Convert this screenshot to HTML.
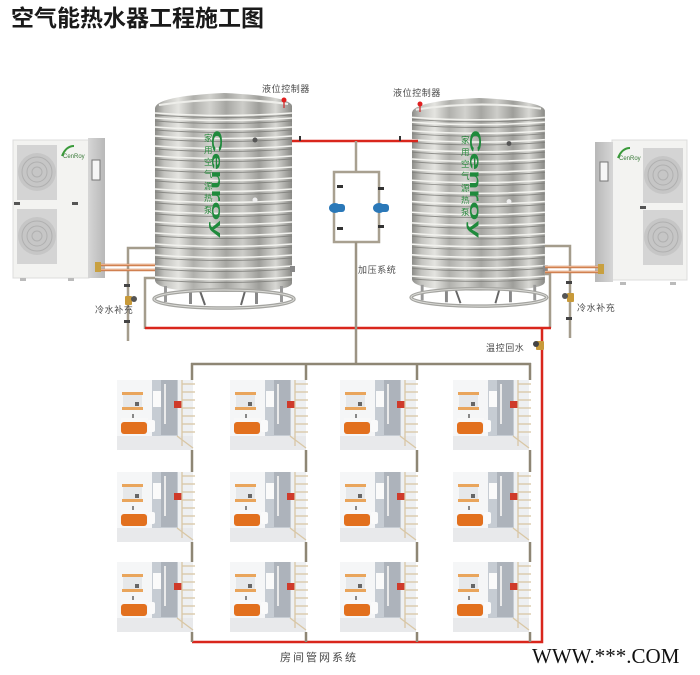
<!DOCTYPE html>
<html>
<head>
<meta charset="utf-8">
<style>
html,body{margin:0;padding:0;background:#fff;}
body{width:700px;height:675px;overflow:hidden;}
svg{display:block;}
.lbl{font-family:"Liberation Sans","Noto Sans CJK SC",sans-serif;font-size:9px;fill:#4a4a4a;letter-spacing:0.6px;}
</style>
</head>
<body>
<svg width="700" height="675" viewBox="0 0 700 675" xmlns="http://www.w3.org/2000/svg">
<defs>
  <linearGradient id="steel" x1="0" y1="0" x2="1" y2="0">
    <stop offset="0" stop-color="#8c8c88"/>
    <stop offset="0.07" stop-color="#c4c4c0"/>
    <stop offset="0.17" stop-color="#e4e4e0"/>
    <stop offset="0.28" stop-color="#b0b0ac"/>
    <stop offset="0.40" stop-color="#d2d2ce"/>
    <stop offset="0.52" stop-color="#a6a6a2"/>
    <stop offset="0.64" stop-color="#cdcdc9"/>
    <stop offset="0.76" stop-color="#9e9e9a"/>
    <stop offset="0.88" stop-color="#d8d8d4"/>
    <stop offset="1" stop-color="#8a8a86"/>
  </linearGradient>
  <linearGradient id="side" x1="0" y1="0" x2="1" y2="0">
    <stop offset="0" stop-color="#d6d6d6"/>
    <stop offset="1" stop-color="#b8b8b8"/>
  </linearGradient>
  <linearGradient id="side2" x1="0" y1="0" x2="1" y2="0">
    <stop offset="0" stop-color="#b8b8b8"/>
    <stop offset="1" stop-color="#d6d6d6"/>
  </linearGradient>

  <g id="tank">
    <path d="M0,15 Q2,3 69,0 Q135,3 137,13 L137,190 Q137,199 69,199 Q0,199 0,187 Z" fill="url(#steel)"/>
    <path d="M4,12 Q69,2 133,11" fill="none" stroke="#eeeeea" stroke-width="2"/>
    <g fill="none" stroke-width="1.6" stroke="#f2f2ee">
      <path d="M0,20 Q69,25 137,20"/><path d="M0,25 Q69,30 137,25"/>
      <path d="M0,34 Q69,39 137,34"/><path d="M0,43 Q69,48 137,43"/>
      <path d="M0,53 Q69,58 137,53"/><path d="M0,63 Q69,68 137,63"/>
      <path d="M0,74 Q69,79 137,74"/><path d="M0,85 Q69,90 137,85"/>
      <path d="M0,96 Q69,101 137,96"/><path d="M0,107 Q69,112 137,107"/>
      <path d="M0,118 Q69,123 137,118"/><path d="M0,129 Q69,134 137,129"/>
      <path d="M0,140 Q69,145 137,140"/><path d="M0,151 Q69,156 137,151"/>
      <path d="M0,162 Q69,167 137,162"/><path d="M0,173 Q69,178 137,173"/>
      <path d="M0,184 Q69,189 137,184"/>
    </g>
    <g fill="none" stroke-width="1" stroke="#7e7e7a" opacity="0.8">
      <path d="M0,22 Q69,27 137,22"/><path d="M0,28 Q69,33 137,28"/>
      <path d="M0,37 Q69,42 137,37"/><path d="M0,46 Q69,51 137,46"/>
      <path d="M0,56 Q69,61 137,56"/><path d="M0,66 Q69,71 137,66"/>
      <path d="M0,77 Q69,82 137,77"/><path d="M0,88 Q69,93 137,88"/>
      <path d="M0,99 Q69,104 137,99"/><path d="M0,110 Q69,115 137,110"/>
      <path d="M0,121 Q69,126 137,121"/><path d="M0,132 Q69,137 137,132"/>
      <path d="M0,143 Q69,148 137,143"/><path d="M0,154 Q69,159 137,154"/>
      <path d="M0,165 Q69,170 137,165"/><path d="M0,176 Q69,181 137,176"/>
      <path d="M0,187 Q69,192 137,187"/>
    </g>
    <circle cx="100" cy="47" r="2.5" fill="#555"/>
    <circle cx="100" cy="107" r="2.5" fill="#eee"/>
    <rect x="135" y="173" width="5" height="6" fill="#888"/>
    <rect x="9" y="193" width="3" height="16" fill="#999"/>
    <rect x="34" y="197" width="3" height="14" fill="#888"/>
    <rect x="100" y="197" width="3" height="14" fill="#888"/>
    <rect x="125" y="193" width="3" height="16" fill="#999"/>
    <path d="M45,198 L50,212 M90,198 L86,212" stroke="#666" stroke-width="2"/>
    <ellipse cx="69" cy="206" rx="70" ry="9" fill="none" stroke="#a4a4a0" stroke-width="3.5"/>
    <ellipse cx="69" cy="206" rx="70" ry="9" fill="none" stroke="#dcdcd8" stroke-width="1"/>
  </g>

  <g id="room">
    <rect x="0" y="0" width="76" height="70" fill="#eef0f2"/>
    <rect x="0" y="0" width="35" height="56" fill="#f5f6f7"/>
    <rect x="35" y="0" width="26" height="56" fill="#c6ccd3"/>
    <rect x="44" y="0" width="16" height="55" fill="#adb3bb"/>
    <rect x="36" y="11" width="8" height="16" fill="#fafafa"/>
    <rect x="47" y="4" width="2" height="40" fill="#eaeaea"/>
    <rect x="5" y="12" width="21" height="3" fill="#e9a55c"/>
    <rect x="6" y="15" width="19" height="12" fill="#e6e8ea"/>
    <rect x="5" y="27" width="21" height="3" fill="#e9a55c"/>
    <rect x="18" y="22" width="4" height="4" fill="#666"/>
    <rect x="4" y="38" width="27" height="4" fill="#f8f8f8"/>
    <rect x="15" y="34" width="2" height="4" fill="#888"/>
    <rect x="4" y="42" width="26" height="12" rx="3" fill="#e2701e"/>
    <rect x="31" y="40" width="7" height="12" rx="2" fill="#fafafa"/>
    <rect x="57" y="21" width="8" height="7" fill="#cf3a2a"/>
    <rect x="0" y="56" width="76" height="14" fill="#e8e9eb"/>
    <g stroke="#d9c7a5" stroke-width="1.3" fill="none">
      <line x1="65" y1="0" x2="65" y2="66"/>
      <line x1="65" y1="4" x2="78" y2="4"/>
      <line x1="65" y1="12" x2="78" y2="12"/>
      <line x1="65" y1="20" x2="78" y2="20"/>
      <line x1="65" y1="28" x2="78" y2="28"/>
      <line x1="65" y1="36" x2="78" y2="36"/>
      <line x1="65" y1="44" x2="78" y2="44"/>
      <line x1="65" y1="52" x2="78" y2="52"/>
      <line x1="60" y1="56" x2="76" y2="68"/>
    </g>
  </g>

  <g id="fan">
    <rect x="0" y="0" width="40" height="55" fill="#d4d4d4"/>
    <circle cx="20" cy="27" r="19" fill="#c6c6c6"/>
    <circle cx="20" cy="27" r="15" fill="none" stroke="#b0b0b0" stroke-width="1"/>
    <circle cx="20" cy="27" r="10" fill="none" stroke="#b0b0b0" stroke-width="1"/>
    <circle cx="20" cy="27" r="5" fill="none" stroke="#b0b0b0" stroke-width="1"/>
  </g>
</defs>

<!-- Title -->
<text x="11" y="26" font-family="'Liberation Sans','Noto Sans CJK SC',sans-serif" font-size="23" font-weight="bold" fill="#1a1a1a">空气能热水器工程施工图</text>

<!-- labels top -->
<text class="lbl" x="262" y="92">液位控制器</text>
<text class="lbl" x="393" y="96">液位控制器</text>

<!-- Left heat pump -->
<rect x="13" y="140" width="76" height="138" fill="#f3f3f1" stroke="#dcdcdc" stroke-width="1"/>
<rect x="88" y="138" width="17" height="140" fill="url(#side)"/>
<use href="#fan" x="17" y="145"/>
<use href="#fan" x="17" y="209"/>
<rect x="14" y="202" width="6" height="3" fill="#555"/>
<rect x="72" y="202" width="6" height="3" fill="#555"/>
<path d="M62,156 Q66,146 74,146" fill="none" stroke="#3a9a3a" stroke-width="2"/>
<text x="63" y="158" font-family="'Liberation Sans',sans-serif" font-size="6" fill="#3a7a3a">CenRoy</text>
<rect x="92" y="160" width="8" height="20" fill="#f6f6f6" stroke="#777" stroke-width="1"/>
<rect x="20" y="278" width="6" height="3" fill="#bbb"/>
<rect x="68" y="278" width="6" height="3" fill="#bbb"/>

<!-- Right heat pump -->
<rect x="612" y="140" width="75" height="140" fill="#f3f3f1" stroke="#dcdcdc" stroke-width="1"/>
<rect x="595" y="142" width="18" height="140" fill="url(#side2)"/>
<use href="#fan" x="643" y="148"/>
<use href="#fan" x="643" y="210"/>
<rect x="640" y="206" width="6" height="3" fill="#555"/>
<path d="M618,158 Q622,148 630,148" fill="none" stroke="#3a9a3a" stroke-width="2"/>
<text x="619" y="160" font-family="'Liberation Sans',sans-serif" font-size="6" fill="#3a7a3a">CenRoy</text>
<rect x="600" y="162" width="8" height="19" fill="#f6f6f6" stroke="#777" stroke-width="1"/>
<rect x="620" y="282" width="6" height="3" fill="#bbb"/>
<rect x="670" y="282" width="6" height="3" fill="#bbb"/>

<!-- Tanks -->
<use href="#tank" transform="translate(155,93)"/>
<use href="#tank" transform="translate(412,98) scale(0.97,0.968)"/>

<!-- tank logos -->
<g font-family="'Liberation Sans','Noto Sans CJK SC',sans-serif" font-size="8.5" fill="#2a8a3e">
  <text x="204" y="141">家</text><text x="204" y="153">用</text><text x="204" y="165">空</text><text x="204" y="177">气</text><text x="204" y="189">源</text><text x="204" y="201">热</text><text x="204" y="213">泵</text>
  <text x="461" y="143">家</text><text x="461" y="155">用</text><text x="461" y="167">空</text><text x="461" y="179">气</text><text x="461" y="191">源</text><text x="461" y="203">热</text><text x="461" y="215">泵</text>
</g>
<text transform="translate(212,130) rotate(90)" font-family="'Liberation Sans',sans-serif" font-size="15" font-weight="bold" fill="#1f8a3c" textLength="108" lengthAdjust="spacingAndGlyphs">Cenroy</text>
<text transform="translate(470,130) rotate(90)" font-family="'Liberation Sans',sans-serif" font-size="16" font-weight="bold" fill="#1f8a3c" textLength="108" lengthAdjust="spacingAndGlyphs">Cenroy</text>

<!-- liquid level controllers -->
<line x1="284" y1="100" x2="284" y2="108" stroke="#c44" stroke-width="1.5"/>
<circle cx="284" cy="100" r="2.5" fill="#e02020"/>
<line x1="420" y1="104" x2="420" y2="112" stroke="#c44" stroke-width="1.5"/>
<circle cx="420" cy="104" r="2.5" fill="#e02020"/>

<!-- Left pipes -->
<polyline points="155,248 128,248 128,341" fill="none" stroke="#a49c8c" stroke-width="2.5"/>
<polyline points="155,278 145,278 145,329" fill="none" stroke="#a49c8c" stroke-width="2.5"/>
<line x1="97" y1="265" x2="155" y2="265" stroke="#d08050" stroke-width="2.5"/>
<line x1="97" y1="270" x2="155" y2="270" stroke="#d08050" stroke-width="2.5"/>
<line x1="97" y1="264.5" x2="155" y2="264.5" stroke="#f0c0a0" stroke-width="0.8"/>
<line x1="97" y1="269.5" x2="155" y2="269.5" stroke="#f0c0a0" stroke-width="0.8"/>
<rect x="95" y="262" width="6" height="10" fill="#c8a040"/>
<rect x="124" y="284" width="6" height="3" fill="#444"/>
<rect x="124" y="320" width="6" height="3" fill="#444"/>
<rect x="125" y="296" width="7" height="9" rx="1" fill="#c89a3a"/>
<circle cx="134" cy="299" r="3" fill="#555"/>
<text class="lbl" x="95" y="313">冷水补充</text>

<!-- Right pipes -->
<polyline points="545,246 570,246 570,338" fill="none" stroke="#a49c8c" stroke-width="2.5"/>
<polyline points="545,274 550,274 550,328" fill="none" stroke="#a49c8c" stroke-width="2.5"/>
<line x1="545" y1="267" x2="600" y2="267" stroke="#d08050" stroke-width="2.5"/>
<line x1="545" y1="272" x2="600" y2="272" stroke="#d08050" stroke-width="2.5"/>
<line x1="545" y1="266.5" x2="600" y2="266.5" stroke="#f0c0a0" stroke-width="0.8"/>
<line x1="545" y1="271.5" x2="600" y2="271.5" stroke="#f0c0a0" stroke-width="0.8"/>
<rect x="598" y="264" width="6" height="10" fill="#c8a040"/>
<rect x="566" y="281" width="6" height="3" fill="#444"/>
<rect x="566" y="317" width="6" height="3" fill="#444"/>
<rect x="567" y="293" width="7" height="9" rx="1" fill="#c89a3a"/>
<circle cx="565" cy="296" r="3" fill="#555"/>
<text class="lbl" x="577" y="311">冷水补充</text>

<!-- Red hot-water lines -->
<line x1="292" y1="141" x2="418" y2="141" stroke="#d9261c" stroke-width="2.5"/>
<rect x="299" y="136" width="2" height="5" fill="#333"/>
<rect x="399" y="136" width="2" height="5" fill="#333"/>
<line x1="145" y1="328" x2="551" y2="328" stroke="#d9261c" stroke-width="2.5"/>
<polyline points="542,328 542,642 192,642" fill="none" stroke="#d9261c" stroke-width="2.5"/>
<rect x="536" y="341" width="8" height="9" rx="1" fill="#c89a3a"/>
<circle cx="536" cy="344" r="3" fill="#444"/>
<text class="lbl" x="486" y="351">温控回水</text>

<!-- Pressurization system -->
<g fill="none" stroke="#a8a090" stroke-width="2.5">
  <line x1="356" y1="141" x2="356" y2="172"/>
  <rect x="334" y="172" width="45" height="70"/>
</g>
<line x1="356" y1="242" x2="356" y2="364" stroke="#9c9484" stroke-width="2.5"/>
<rect x="337" y="185" width="6" height="3" fill="#333"/>
<rect x="337" y="227" width="6" height="3" fill="#333"/>
<rect x="378" y="187" width="6" height="3" fill="#333"/>
<rect x="378" y="225" width="6" height="3" fill="#333"/>
<g fill="#2a78b8">
  <ellipse cx="335" cy="208" rx="6" ry="5"/>
  <rect x="333" y="204" width="12" height="8" rx="3"/>
  <ellipse cx="379" cy="208" rx="6" ry="5"/>
  <rect x="377" y="204" width="12" height="8" rx="3"/>
</g>
<text class="lbl" x="358" y="273">加压系统</text>

<!-- Room distribution network -->
<line x1="191" y1="364" x2="531" y2="364" stroke="#8e8674" stroke-width="2.5"/>
<g stroke="#8e8674" stroke-width="2.5">
  <line x1="192" y1="363" x2="192" y2="380"/>
  <line x1="306" y1="363" x2="306" y2="380"/>
  <line x1="417" y1="363" x2="417" y2="380"/>
  <line x1="530" y1="363" x2="530" y2="380"/>
  <line x1="192" y1="450" x2="192" y2="472"/>
  <line x1="306" y1="450" x2="306" y2="472"/>
  <line x1="417" y1="450" x2="417" y2="472"/>
  <line x1="530" y1="450" x2="530" y2="472"/>
  <line x1="192" y1="542" x2="192" y2="562"/>
  <line x1="306" y1="542" x2="306" y2="562"/>
  <line x1="417" y1="542" x2="417" y2="562"/>
  <line x1="530" y1="542" x2="530" y2="562"/>
  <line x1="192" y1="632" x2="192" y2="642"/>
  <line x1="306" y1="632" x2="306" y2="642"/>
  <line x1="417" y1="632" x2="417" y2="642"/>
  <line x1="530" y1="632" x2="530" y2="642"/>
</g>

<use href="#room" x="117" y="380"/>
<use href="#room" x="230" y="380"/>
<use href="#room" x="340" y="380"/>
<use href="#room" x="453" y="380"/>
<use href="#room" x="117" y="472"/>
<use href="#room" x="230" y="472"/>
<use href="#room" x="340" y="472"/>
<use href="#room" x="453" y="472"/>
<use href="#room" x="117" y="562"/>
<use href="#room" x="230" y="562"/>
<use href="#room" x="340" y="562"/>
<use href="#room" x="453" y="562"/>

<text x="280" y="661" font-family="'Liberation Sans','Noto Sans CJK SC',sans-serif" font-size="11" fill="#4a4a4a" letter-spacing="2">房间管网系统</text>
<text x="532" y="663" font-family="'Liberation Serif',serif" font-size="21" fill="#111">WWW.***.COM</text>
</svg>
</body>
</html>
